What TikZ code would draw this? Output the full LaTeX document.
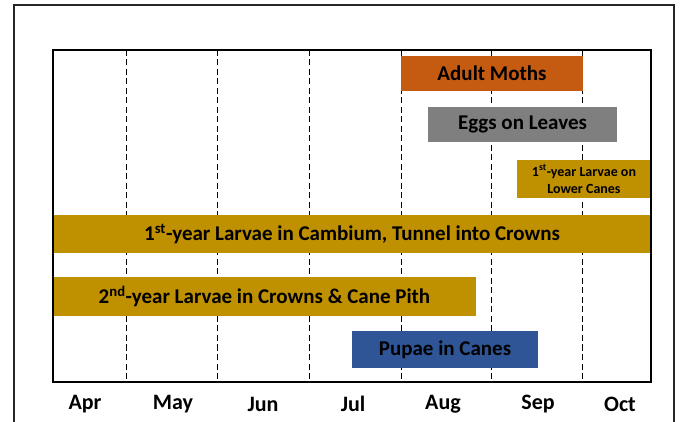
\documentclass[tikz,border=0pt]{standalone}
\usepackage{fontspec}
\setmainfont{Carlito}
\usepackage{xcolor}
\usetikzlibrary{positioning}

\definecolor{mothorange}{HTML}{C55A11}
\definecolor{egggray}{HTML}{7F7F7F}
\definecolor{larvagold}{HTML}{BF9000}
\definecolor{pupablue}{HTML}{2F5597}

\tikzset{
  stagebar/.style={draw=none, inner sep=0pt, align=center, font=\bfseries\fontsize{21}{23}\selectfont},
  monthlabel/.style={font=\bfseries\fontsize{22}{24}\selectfont, inner sep=0pt}
}

\begin{document}
\begin{tikzpicture}[x=1pt,y=-1pt]
\fill[white] (0,0) rectangle (686,422);
\useasboundingbox (0,0) rectangle (686,422);

% outer frame
\draw[line width=1.6pt, black!85] (14,422) -- (14,5) -- (674,5) -- (674,422);

% month dividers
\foreach \x in {126,217,309,401,491,582}
  \draw[line width=1pt, dash pattern=on 6pt off 3.5pt] (\x,50) -- (\x,382);

% bars
\node[stagebar, fill=mothorange, minimum width=182pt, minimum height=35pt] (moths) at (492,73.5) {Adult Moths};
\node[stagebar, fill=egggray, minimum width=189pt, minimum height=35pt] (eggs) at (522.5,124.5) {Eggs on Leaves};
\node[stagebar, fill=larvagold, minimum width=134pt, minimum height=38pt, font=\bfseries\fontsize{14}{17}\selectfont] (lowercanes) at (584,179) {1\textsuperscript{st}-year Larvae on\\Lower Canes};
\node[stagebar, fill=larvagold, minimum width=598pt, minimum height=38pt] (cambium) at (352,234) {1\textsuperscript{st}-year Larvae in Cambium, Tunnel into Crowns};
\node[stagebar, fill=larvagold, minimum width=423pt, minimum height=39pt] (pith) at (264.5,296.5) {2\textsuperscript{nd}-year Larvae in Crowns \& Cane Pith};
\node[stagebar, fill=pupablue, minimum width=186pt, minimum height=37pt] (pupae) at (445,349.5) {Pupae in Canes};

% plot area
\draw[line width=1.2pt] (53,50) rectangle (651,382);

% months
\node[monthlabel] (apr) at (85,404) {Apr};
\node[monthlabel] (may) at (173,404) {May};
\node[monthlabel] (jun) at (263,404) {Jun};
\node[monthlabel] (jul) at (353,404) {Jul};
\node[monthlabel] (aug) at (443,404) {Aug};
\node[monthlabel] (sep) at (538,404) {Sep};
\node[monthlabel] (oct) at (620,404) {Oct};

\end{tikzpicture}
\end{document}
